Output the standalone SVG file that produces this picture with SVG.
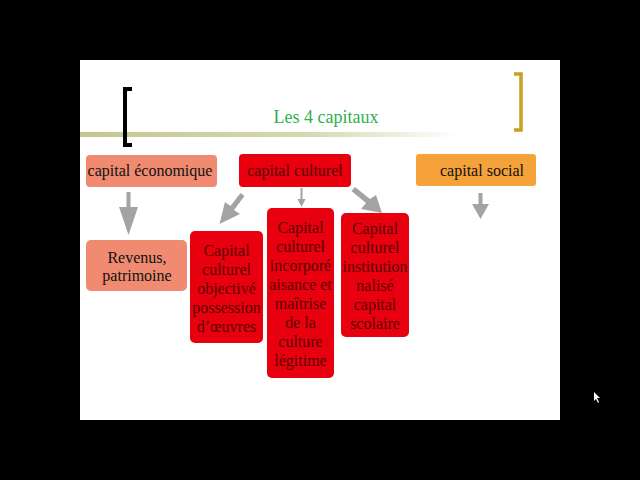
<svg xmlns="http://www.w3.org/2000/svg" width="640" height="480" viewBox="0 0 640 480">
<defs>
<linearGradient id="rule" x1="0" y1="0" x2="1" y2="0">
<stop offset="0" stop-color="#c4c78e"/>
<stop offset="0.6" stop-color="#d6d8b0"/>
<stop offset="1" stop-color="#ffffff"/>
</linearGradient>
</defs>
<style>
.t{font-family:"Liberation Serif","Times New Roman",serif;font-size:16px;text-anchor:middle}
.dk{fill:#111}
.rd{fill:#5a0000}
.arr{fill:#a3a3a3}
</style>
<rect x="0" y="0" width="640" height="480" fill="#000"/>
<rect x="80" y="60" width="480" height="360" fill="#fff"/>
<rect x="80" y="132" width="380" height="5" fill="url(#rule)"/>
<path d="M132,89 H125 V145 H132" fill="none" stroke="#000" stroke-width="4"/>
<path d="M514,74 H521 V130 H514" fill="none" stroke="#c9a020" stroke-width="3.5"/>
<text x="326" y="123" style="font-family:'Liberation Serif','Times New Roman',serif;font-size:18px;text-anchor:middle;fill:#2fb04a">Les 4 capitaux</text>

<g id="connectors">
<polygon class="arr" points="126.5,192 130.5,192 130.5,207 138,207 128.5,235 119,207 126.5,207"/>
<polygon class="arr" points="240.5,193 244.5,196 234,210 240,214 219.5,224 225,202 230.5,206"/>
<polygon class="arr" points="300.5,188 302.5,188 302.5,199 305.5,199 301.5,207 297.5,199 300.5,199"/>
<polygon class="arr" points="355,187 351.5,191 366,203 361,209 382,213 376,195 370,199"/>
<polygon class="arr" points="478.5,193 482.5,193 482.5,204 489,204 480.5,219 472,204 478.5,204"/>
</g>

<g id="capital-economique">
<rect x="86" y="155" width="131" height="32" rx="4" fill="#f08a70"/>
<text class="t dk" x="150" y="176">capital économique</text>
</g>
<g id="capital-culturel">
<rect x="239" y="154" width="112" height="33" rx="4" fill="#e8000e"/>
<text class="t rd" x="295" y="176">capital culturel</text>
</g>
<g id="capital-social">
<rect x="416" y="154" width="120" height="32" rx="3" fill="#f5a23a"/>
<text class="t dk" x="482" y="176">capital social</text>
</g>
<g id="revenus">
<rect x="86" y="240" width="101" height="51" rx="5" fill="#f08a70"/>
<text class="t dk" x="137" y="263">Revenus,</text>
<text class="t dk" x="137" y="281">patrimoine</text>
</g>
<g id="objective">
<rect x="190" y="231" width="73" height="112" rx="5" fill="#e8000e"/>
<text class="t rd" x="226.5" y="256">Capital</text>
<text class="t rd" x="226.5" y="275">culturel</text>
<text class="t rd" x="226.5" y="294">objectivé</text>
<text class="t rd" x="226.5" y="313">possession</text>
<text class="t rd" x="226.5" y="332">d’œuvres</text>
</g>
<g id="incorpore">
<rect x="267" y="208" width="67" height="170" rx="5" fill="#e8000e"/>
<text class="t rd" x="300.5" y="233">Capital</text>
<text class="t rd" x="300.5" y="252">culturel</text>
<text class="t rd" x="300.5" y="271">incorporé</text>
<text class="t rd" x="300.5" y="290">aisance et</text>
<text class="t rd" x="300.5" y="309">maîtrise</text>
<text class="t rd" x="300.5" y="328">de la</text>
<text class="t rd" x="300.5" y="347">culture</text>
<text class="t rd" x="300.5" y="366">légitime</text>
</g>
<g id="institutionnalise">
<rect x="341" y="213" width="68" height="124" rx="5" fill="#e8000e"/>
<text class="t rd" x="375" y="234">Capital</text>
<text class="t rd" x="375" y="253">culturel</text>
<text class="t rd" x="375" y="272">institution</text>
<text class="t rd" x="375" y="291">nalisé</text>
<text class="t rd" x="375" y="310">capital</text>
<text class="t rd" x="375" y="329">scolaire</text>
</g>
<polygon points="594,392 594,401 596,399 598,403 599,402 597,398 600,398" fill="#fff"/>
</svg>
